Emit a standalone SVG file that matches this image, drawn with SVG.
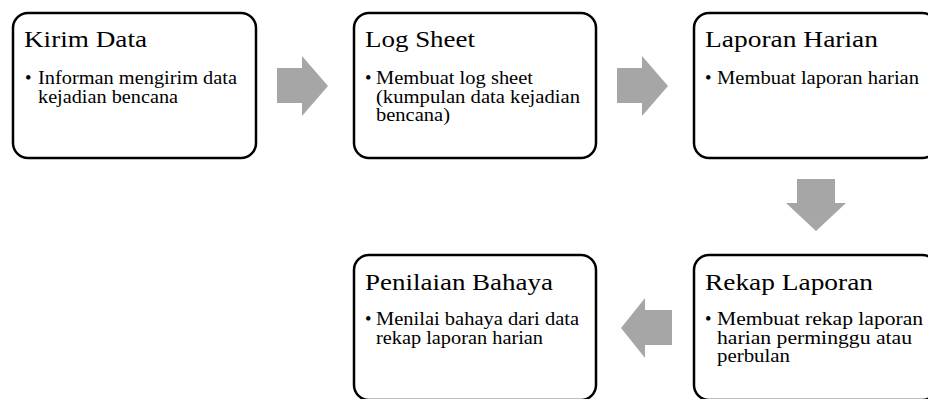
<svg xmlns="http://www.w3.org/2000/svg" width="928" height="399" viewBox="0 0 928 399">
<style>
.box{fill:#fff;stroke:#000;stroke-width:2.5}
.t{font-family:"Liberation Serif","Times New Roman",serif;font-size:24px;fill:#000}
.b{font-family:"Liberation Serif","Times New Roman",serif;font-size:18.5px;fill:#000}
.arr{fill:#A6A6A6}
</style>
<rect width="928" height="399" fill="#fff"/>
<g id="connectors">
<polygon class="arr" points="277,68 302,68 302,56 328,86 302,116 302,103 277,103"/>
<polygon class="arr" points="617,68 642,68 642,56 668,86 642,116 642,103 617,103"/>
<polygon class="arr" points="797,179 835,179 835,203 846,203 816,231 786,203 797,203"/>
<polygon class="arr" points="672,310 645,310 645,298 621,328 645,358 645,345 672,345"/>
</g>
<g id="kirim-data">
<rect class="box" x="13" y="13" width="243" height="145" rx="15"/>
<text class="t" x="24" y="47" textLength="123" lengthAdjust="spacingAndGlyphs">Kirim Data</text>
<text class="b" x="25" y="84">•</text>
<text class="b" x="38" y="84" textLength="199" lengthAdjust="spacingAndGlyphs">Informan mengirim data</text>
<text class="b" x="38" y="102.5" textLength="140" lengthAdjust="spacingAndGlyphs">kejadian bencana</text>
</g>
<g id="log-sheet">
<rect class="box" x="354" y="13" width="242" height="145" rx="15"/>
<text class="t" x="365" y="47" textLength="110" lengthAdjust="spacingAndGlyphs">Log Sheet</text>
<text class="b" x="365" y="84">•</text>
<text class="b" x="376" y="84" textLength="157" lengthAdjust="spacingAndGlyphs">Membuat log sheet</text>
<text class="b" x="376" y="102.5" textLength="204" lengthAdjust="spacingAndGlyphs">(kumpulan data kejadian</text>
<text class="b" x="376" y="121" textLength="74" lengthAdjust="spacingAndGlyphs">bencana)</text>
</g>
<g id="laporan-harian">
<rect class="box" x="694" y="13" width="243" height="145" rx="15"/>
<text class="t" x="705" y="47" textLength="173" lengthAdjust="spacingAndGlyphs">Laporan Harian</text>
<text class="b" x="705" y="84">•</text>
<text class="b" x="717" y="84" textLength="202" lengthAdjust="spacingAndGlyphs">Membuat laporan harian</text>
</g>
<g id="rekap-laporan">
<rect class="box" x="694" y="255" width="243" height="145" rx="15"/>
<text class="t" x="705" y="290" textLength="168" lengthAdjust="spacingAndGlyphs">Rekap Laporan</text>
<text class="b" x="705" y="325">•</text>
<text class="b" x="717" y="325" textLength="206" lengthAdjust="spacingAndGlyphs">Membuat rekap laporan</text>
<text class="b" x="717" y="343.5" textLength="195" lengthAdjust="spacingAndGlyphs">harian perminggu atau</text>
<text class="b" x="717" y="362" textLength="73" lengthAdjust="spacingAndGlyphs">perbulan</text>
</g>
<g id="penilaian-bahaya">
<rect class="box" x="354" y="255" width="242" height="145" rx="15"/>
<text class="t" x="365" y="290" textLength="188" lengthAdjust="spacingAndGlyphs">Penilaian Bahaya</text>
<text class="b" x="365" y="325">•</text>
<text class="b" x="376" y="325" textLength="203" lengthAdjust="spacingAndGlyphs">Menilai bahaya dari data</text>
<text class="b" x="376" y="343.5" textLength="167" lengthAdjust="spacingAndGlyphs">rekap laporan harian</text>
</g>
</svg>
